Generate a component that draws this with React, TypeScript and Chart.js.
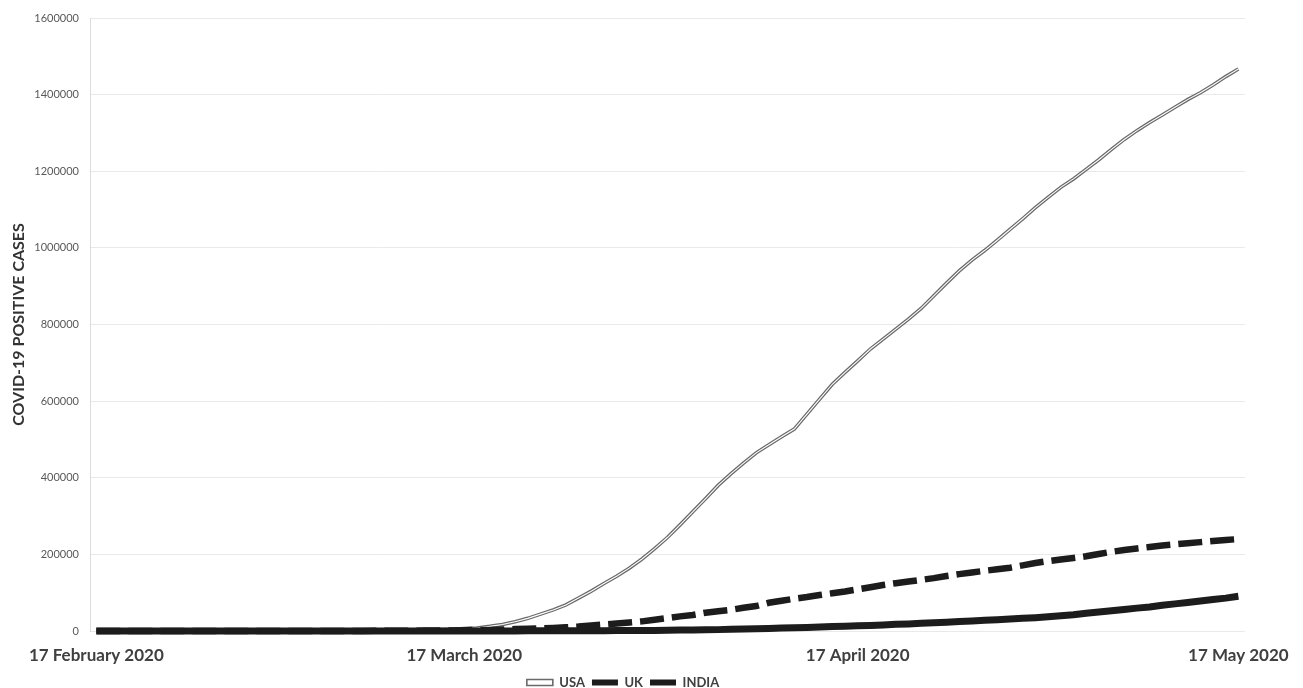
import React, { useEffect, useRef } from "react";
import { Chart, registerables } from "chart.js";

Chart.register(...registerables);

// ---- Data ----
const monthNames = ["January", "February", "March", "April", "May"];
// 91 daily categories, 17 February 2020 .. 17 May 2020
const categories: string[] = (() => {
  const out: string[] = [];
  const d = new Date(2020, 1, 17);
  for (let i = 0; i < 91; i++) {
    out.push(`${d.getDate()} ${monthNames[d.getMonth()]} ${d.getFullYear()}`);
    d.setDate(d.getDate() + 1);
  }
  return out;
})();

const tickLabels = ["17 February 2020", "17 March 2020", "17 April 2020", "17 May 2020"];

const usa = [
  15, 15, 15, 15, 15, 35, 35, 35, 53, 53,
  59, 60, 68, 74, 98, 118, 149, 217, 262, 402,
  518, 583, 959, 1281, 1663, 2179, 2727, 3499, 4632,
  6400, 7800, 12000, 17000, 24000, 33000, 44000, 55000, 68000, 86000,
  104000, 124000, 143000, 164000, 188000, 215000, 244000, 277000, 311000, 345000,
  380000, 410000, 438000, 465000, 486000, 507000, 527000, 566000, 605000, 644000,
  675000, 705000, 736000, 762000, 788000, 814000, 842000, 875000, 908000, 940000,
  968000, 993000, 1020000, 1048000, 1076000, 1105000, 1132000, 1158000, 1180000, 1205000,
  1230000, 1257000, 1283000, 1306000, 1327000, 1347000, 1367000, 1387000, 1405000, 1425000,
  1447000, 1467000,
];

const uk = [
  9, 9, 9, 9, 9, 9, 13, 13, 13, 13,
  15, 20, 23, 36, 40, 51, 85, 115, 163, 206,
  273, 321, 382, 456, 456, 798, 1140, 1140, 1543,
  1950, 2626, 2689, 3983, 5018, 5683, 6650, 8077, 9529, 11658,
  14543, 17089, 19522, 22141, 25150, 29474, 33718, 38168, 41903, 47806,
  51608, 55242, 60733, 65077, 73758, 78991, 84279, 88621, 93873, 98476,
  103093, 108692, 114217, 120067, 124743, 129044, 133495, 138078, 143464, 148377,
  152840, 157149, 161145, 165221, 171253, 177454, 182260, 186599, 190584, 194990,
  201101, 206715, 211364, 215260, 219183, 223060, 226000, 229000, 232000, 235000,
  237500, 240000,
];

const india = [
  3, 3, 3, 3, 3, 3, 3, 3, 3, 3,
  3, 3, 3, 3, 5, 5, 28, 30, 31, 34,
  39, 43, 56, 62, 73, 82, 102, 113, 119,
  137, 151, 173, 223, 283, 360, 434, 519, 606, 694,
  724, 873, 979, 1071, 1251, 1397, 1998, 2543, 2567, 3082,
  3588, 4778, 5311, 5916, 6725, 7598, 8446, 9205, 10453, 11487,
  12322, 13430, 14352, 15722, 17615, 18539, 20080, 21370, 23077, 24530,
  26283, 27890, 29451, 31324, 33062, 34863, 37257, 39699, 42505, 46437,
  49400, 52987, 56351, 59695, 62808, 67161, 70768, 74292, 78055, 81997,
  85784, 90648,
];

const yMax = 1600000;
const yStep = 200000;

const FONT = "Lato, 'Open Sans', 'Liberation Sans', sans-serif";

export default function App() {
  const canvasRef = useRef<HTMLCanvasElement | null>(null);

  useEffect(() => {
    document.body.style.margin = "0";
    const canvas = canvasRef.current;
    if (!canvas) return;
    const chart = new Chart(canvas, {
      type: "line",
      data: {
        labels: categories,
        datasets: [
          {
            label: "USA",
            data: usa,
            borderColor: "#6a6a6a",
            borderWidth: 3.6,
            pointRadius: 0,
            tension: 0,
            clip: false,
            order: 3,
          },
          {
            label: "USA_inner",
            data: usa,
            borderColor: "#ffffff",
            borderWidth: 1.1,
            pointRadius: 0,
            tension: 0,
            clip: false,
            order: 2,
          },
          {
            label: "UK",
            data: uk,
            borderColor: "#1c1c1c",
            borderWidth: 6.5,
            borderDash: [24, 8],
            borderCapStyle: "butt",
            pointRadius: 0,
            tension: 0,
            clip: false,
            order: 1,
          },
          {
            label: "INDIA",
            data: india,
            borderColor: "#1c1c1c",
            borderWidth: 7,
            pointRadius: 0,
            tension: 0,
            clip: false,
            order: 0,
          },
        ],
      },
      options: {
        animation: false,
        responsive: true,
        maintainAspectRatio: false,
        layout: { padding: { left: 0, right: 57, top: 18, bottom: 0 } },
        plugins: {
          tooltip: { enabled: false },
          legend: {
            position: "bottom",
            labels: {
              boxWidth: 26,
              boxHeight: 6,
              padding: 7,
              color: "#404040",
              font: { family: FONT, size: 13, weight: "bold" },
              generateLabels: () => [
                {
                  text: "USA",
                  fillStyle: "#ffffff",
                  strokeStyle: "#6a6a6a",
                  lineWidth: 1.6,
                  fontColor: "#404040",
                  hidden: false,
                  datasetIndex: 0,
                },
                {
                  text: "UK",
                  fillStyle: "#1c1c1c",
                  strokeStyle: "#1c1c1c",
                  lineWidth: 0,
                  fontColor: "#404040",
                  hidden: false,
                  datasetIndex: 2,
                },
                {
                  text: "INDIA",
                  fillStyle: "#1c1c1c",
                  strokeStyle: "#1c1c1c",
                  lineWidth: 0,
                  fontColor: "#404040",
                  hidden: false,
                  datasetIndex: 3,
                },
              ],
            },
          },
        },
        scales: {
          x: {
            type: "category",
            offset: true,
            grid: { display: false, drawTicks: false },
            border: { display: false },
            ticks: {
              autoSkip: false,
              maxRotation: 0,
              minRotation: 0,
              padding: 14,
              color: "#404040",
              font: { family: FONT, size: 17, weight: "bold" },
              callback: (_v: any, index: number) =>
                tickLabels.includes(categories[index]) ? categories[index] : "",
            },
            afterFit: (s: any) => {
              s.height = 38;
            },
          },
          y: {
            min: 0,
            max: yMax,
            grid: { color: "#e9e9e9", lineWidth: 1, drawTicks: false },
            border: { display: true, color: "#dcdcdc" },
            ticks: {
              stepSize: yStep,
              padding: 11,
              color: "#595959",
              font: { family: FONT, size: 11 },
              callback: (v: any) => String(v),
            },
            title: {
              display: true,
              text: "COVID-19 POSITIVE CASES",
              color: "#333333",
              font: { family: FONT, size: 16, weight: "bold" },
              padding: { top: 9, bottom: 0 },
            },
            afterFit: (s: any) => {
              s.width = 90;
            },
          },
        },
      },
    });
    return () => chart.destroy();
  }, []);

  return (
    <div
      style={{
        position: "fixed",
        left: 0,
        top: 0,
        width: 1303,
        height: 688,
        overflow: "hidden",
        background: "#ffffff",
      }}
    >
      <div style={{ position: "relative", width: 1303, height: 699 }}>
        <canvas ref={canvasRef} />
      </div>
    </div>
  );
}
